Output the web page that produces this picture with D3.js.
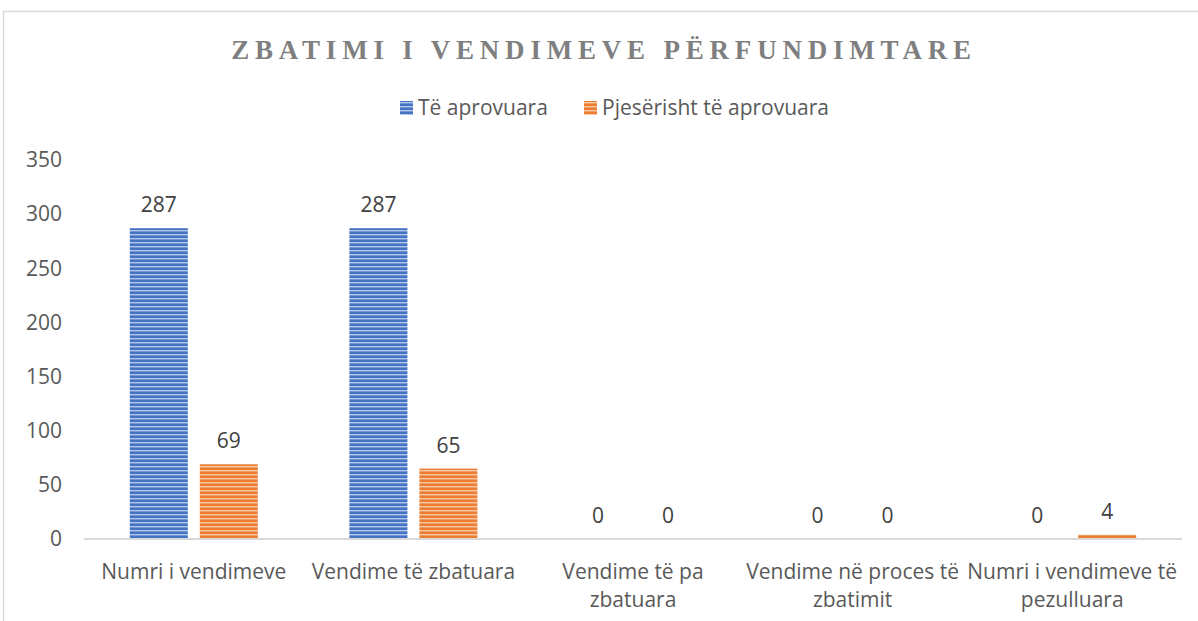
<!DOCTYPE html>
<html>
<head>
<meta charset="utf-8">
<style>
  body { margin: 0; background: #fff; }
  svg text { font-family: "Open Sans", "Noto Sans", sans-serif; fill: #595959; }
</style>
</head>
<body>
<div id="chart"></div>
<script src="https://d3js.org/d3.v7.min.js"></script>
<script>
var categories = [
  ['Numri i vendimeve'],
  ['Vendime të zbatuara'],
  ['Vendime të pa', 'zbatuara'],
  ['Vendime në proces të', 'zbatimit'],
  ['Numri i vendimeve të', 'pezulluara']
];
var seriesNames = ['Të aprovuara', 'Pjesërisht të aprovuara'];
var aprovuara = [287, 287, 0, 0, 0];
var pjeserisht = [69, 65, 0, 0, 4];
var yTicks = [0, 50, 100, 150, 200, 250, 300, 350];

var W = 1198, H = 621;
var svg = d3.select('#chart').append('svg').attr('width', W).attr('height', H);

// stripe patterns
var defs = svg.append('defs');
function stripes(id, dark, light) {
  var p = defs.append('pattern').attr('id', id)
    .attr('patternUnits', 'userSpaceOnUse').attr('width', 8).attr('height', 4);
  p.append('rect').attr('width', 8).attr('height', 4).attr('fill', dark);
  p.append('rect').attr('y', 2).attr('width', 8).attr('height', 1.4).attr('fill', light);
}
stripes('blueStripe', '#4472c4', '#b4c7e7');
stripes('orangeStripe', '#ed7d31', '#f8cbad');
var fills = ['url(#blueStripe)', 'url(#orangeStripe)'];

// outer border
svg.append('rect').attr('x', 3.5).attr('y', 11.5).attr('width', W + 10).attr('height', H + 10)
  .attr('fill', 'none').attr('stroke', '#d9d9d9').attr('stroke-width', 1.5);

svg.append('text').attr('x', 604).attr('y', 59).attr('text-anchor', 'middle')
  .style('font-family', '"Liberation Serif", "DejaVu Serif", serif')
  .style('font-weight', 'bold').style('font-size', '27px').style('letter-spacing', '5.8px')
  .style('fill', '#7f7f7f')
  .text('ZBATIMI I VENDIMEVE PËRFUNDIMTARE');

// legend
var legendX = [400, 584];
seriesNames.forEach(function(n, i) {
  svg.append('rect').attr('x', legendX[i]).attr('y', 101).attr('width', 13).attr('height', 14)
    .attr('fill', fills[i]);
  svg.append('text').attr('x', legendX[i] + 18).attr('y', 115)
    .style('font-size', '21px').text(n);
});

var x0 = d3.scaleBand().domain(d3.range(categories.length)).range([84, 1182]);
var x1 = d3.scaleBand().domain([0, 1]).range([0, x0.bandwidth()]).paddingInner(0.171).paddingOuter(0.654);
var y = d3.scaleLinear().domain([0, 350]).range([539, 160]);

var yAxis = svg.append('g').attr('transform', 'translate(70,0)')
  .call(d3.axisLeft(y).tickValues(yTicks).tickSize(0).tickPadding(8));
yAxis.select('.domain').remove();
yAxis.selectAll('text').style('font-size', '21px').style('fill', '#595959')
  .style('font-family', '"Open Sans", sans-serif');

var series = [aprovuara, pjeserisht];
series.forEach(function(vals, s) {
  var g = svg.append('g');
  g.selectAll('rect').data(vals).enter().append('rect')
    .attr('x', function(d, i) { return x0(i) + x1(s); })
    .attr('width', x1.bandwidth())
    .attr('y', function(d) { return y(d); })
    .attr('height', function(d) { return y(0) - y(d); })
    .attr('fill', fills[s]);
  g.selectAll('text').data(vals).enter().append('text')
    .attr('x', function(d, i) { return x0(i) + x1(s) + x1.bandwidth() / 2; })
    .attr('y', function(d) { return y(d) - 16; })
    .attr('text-anchor', 'middle').style('font-size', '21px').style('fill', '#404040')
    .text(function(d) { return d; });
});

svg.append('line').attr('x1', 84).attr('x2', 1182).attr('y1', 539).attr('y2', 539)
  .attr('stroke', '#d9d9d9').attr('stroke-width', 2);

var xl = svg.append('g').selectAll('text').data(categories).enter().append('text')
  .attr('x', function(d, i) { return x0(i) + x0.bandwidth() / 2; })
  .attr('y', 579).attr('text-anchor', 'middle').style('font-size', '21px');
xl.selectAll('tspan').data(function(d) { return d; }).enter().append('tspan')
  .attr('x', function() { return d3.select(this.parentNode).attr('x'); })
  .attr('dy', function(d, i) { return i === 0 ? 0 : 28; })
  .text(function(d) { return d; });
</script>
</body>
</html>
